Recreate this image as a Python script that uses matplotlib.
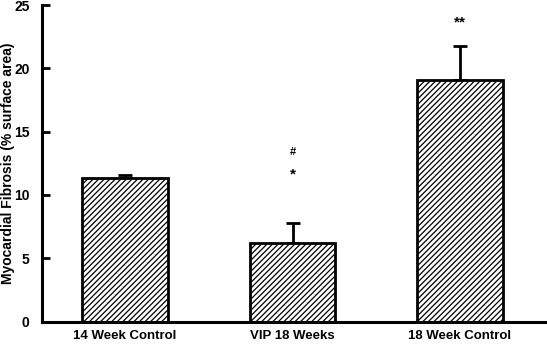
import numpy as np
import matplotlib.pyplot as plt

plt.rcParams['font.family'] = ['Liberation Sans', 'DejaVu Sans']
plt.rcParams['hatch.linewidth'] = 0.9

groups = ['14 Week Control', 'VIP 18 Weeks', '18 Week Control']
fibrosis = [11.3, 6.2, 19.1]
sem = [0.3, 1.6, 2.7]

fig = plt.figure(figsize=(5.47, 3.45), dpi=100)
ax = fig.add_axes([0.077, 0.068, 0.923, 0.9175])

x = np.arange(len(groups))
ax.bar(x, fibrosis, 0.51, color='white', edgecolor='black', linewidth=2.0,
       hatch='//////', zorder=2)
ax.errorbar(x, fibrosis, yerr=[np.zeros(len(sem)), sem], fmt='none',
            ecolor='black', elinewidth=2.0, capsize=5, capthick=2.0, zorder=1)

# significance symbols above the bars
ax.text(x[1], 13.4, '#', ha='center', va='center', fontsize=8, fontweight='bold')
ax.text(x[1], 11.6, '*', ha='center', va='center', fontsize=11, fontweight='bold')
ax.text(x[2], 23.6, '**', ha='center', va='center', fontsize=11, fontweight='bold')

ax.set_xlim(-0.496, 2.52)
ax.set_ylim(0, 25)
ax.set_yticks([0, 5, 10, 15, 20, 25])
ax.set_xticks(x)
ax.set_xticklabels(groups, fontsize=9.5, fontweight='bold')
ax.tick_params(axis='x', length=0, pad=6)
ax.tick_params(axis='y', direction='in', length=6, width=2, labelsize=10, pad=9)
for lbl in ax.get_yticklabels():
    lbl.set_fontweight('bold')
ax.set_ylabel('Myocardial Fibrosis (% surface area)', fontsize=10, fontweight='bold')
ax.yaxis.set_label_coords(-0.053, 0.5)

ax.spines['top'].set_visible(False)
ax.spines['right'].set_visible(False)
ax.spines['left'].set_linewidth(2.2)
ax.spines['bottom'].set_linewidth(2.2)

fig.savefig('out.png', dpi=100)
